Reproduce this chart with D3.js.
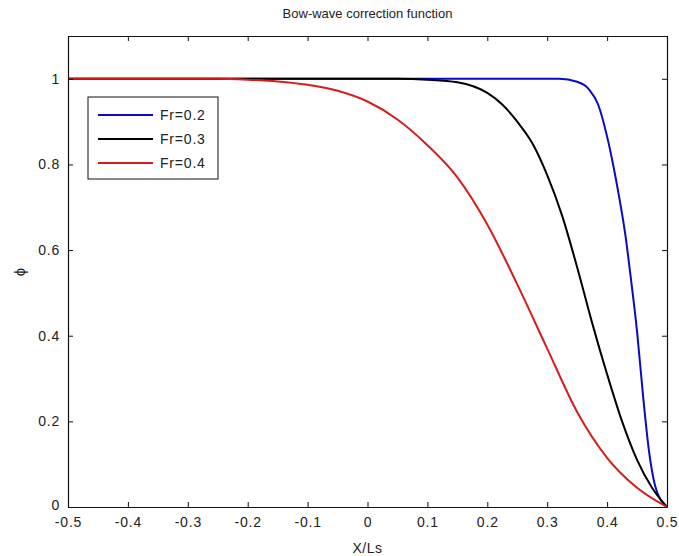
<!DOCTYPE html>
<html>
<head>
<meta charset="utf-8">
<script src="https://cdn.jsdelivr.net/npm/d3@7/dist/d3.min.js"></script>
<style>
  html, body { margin: 0; padding: 0; background: #fff; }
  svg text { font-family: Arial, "Liberation Sans", sans-serif; fill: #222; }
</style>
</head>
<body>
<svg id="chart" width="679" height="556"></svg>
<script>
// Bow-wave correction function phi(X/Ls) for three Froude numbers
const xTicks = [-0.5, -0.4, -0.3, -0.2, -0.1, 0, 0.1, 0.2, 0.3, 0.4, 0.5];
const xTickLabels = ["-0.5", "-0.4", "-0.3", "-0.2", "-0.1", "0", "0.1", "0.2", "0.3", "0.4", "0.5"];
const yTicks = [0, 0.2, 0.4, 0.6, 0.8, 1];
const yTickLabels = ["0", "0.2", "0.4", "0.6", "0.8", "1"];

const seriesNames = ["Fr=0.2", "Fr=0.3", "Fr=0.4"];
const seriesColors = ["#0a0ac4", "#000000", "#d81c1c"];

const fr02X = [-0.5, 0.30, 0.32, 0.35, 0.37, 0.385, 0.40, 0.41, 0.42, 0.43, 0.44, 0.45, 0.46, 0.47, 0.48, 0.49, 0.5];
const fr02Y = [1, 1, 1, 0.993, 0.975, 0.94, 0.865, 0.80, 0.725, 0.64, 0.53, 0.41, 0.26, 0.13, 0.05, 0.015, 0];

const fr03X = [-0.5, 0.05, 0.10, 0.15, 0.20, 0.225, 0.25, 0.275, 0.30, 0.325, 0.35, 0.375, 0.40, 0.425, 0.45, 0.475, 0.5];
const fr03Y = [1, 1, 0.998, 0.992, 0.967, 0.94, 0.90, 0.85, 0.775, 0.68, 0.56, 0.43, 0.31, 0.20, 0.11, 0.045, 0];

const fr04X = [-0.5, -0.25, -0.2, -0.15, -0.1, -0.05, 0, 0.05, 0.1, 0.15, 0.2, 0.25, 0.3, 0.35, 0.4, 0.45, 0.5];
const fr04Y = [1, 1, 0.998, 0.994, 0.986, 0.972, 0.947, 0.905, 0.845, 0.77, 0.66, 0.52, 0.37, 0.222, 0.115, 0.045, 0];

const seriesX = [fr02X, fr03X, fr04X];
const seriesY = [fr02Y, fr03Y, fr04Y];

const plot = { left: 68, right: 667, top: 36, bottom: 507 };
const svg = d3.select("#chart");

const x = d3.scaleLinear().domain([-0.5, 0.5]).range([plot.left, plot.right]);
const y = d3.scaleLinear().domain([0, 1.1]).range([plot.bottom, plot.top]);

const tickLen = 5;

// series
const line = d3.line().x(d => x(d[0])).y(d => y(d[1])).curve(d3.curveMonotoneX);
seriesX.forEach((xs, i) => {
  const pts = xs.map((v, j) => [v, seriesY[i][j]]);
  svg.append("path")
    .datum(pts)
    .attr("d", line)
    .attr("fill", "none")
    .attr("stroke", seriesColors[i])
    .attr("stroke-width", 2)
    .attr("stroke-linejoin", "round");
});

// axes with inward ticks on all four sides
function styleAxis(g) {
  g.selectAll("path.domain").attr("stroke", "#111").attr("stroke-width", 1.2);
  g.selectAll(".tick line").attr("stroke", "#111").attr("stroke-width", 1);
  g.selectAll(".tick text")
    .style("font-size", "14px")
    .style("letter-spacing", "0.8px")
    .attr("fill", "#222");
}

svg.append("g")
  .attr("transform", `translate(0,${plot.bottom})`)
  .call(d3.axisBottom(x).tickValues(xTicks).tickFormat((d, i) => xTickLabels[i])
    .tickSizeInner(-tickLen).tickSizeOuter(0).tickPadding(10))
  .call(styleAxis);

svg.append("g")
  .attr("transform", `translate(0,${plot.top})`)
  .call(d3.axisTop(x).tickValues(xTicks).tickFormat("")
    .tickSizeInner(-tickLen).tickSizeOuter(0))
  .call(styleAxis);

const yAxis = svg.append("g")
  .attr("transform", `translate(${plot.left},0)`)
  .call(d3.axisLeft(y).tickValues(yTicks).tickFormat((d, i) => yTickLabels[i])
    .tickSizeInner(-tickLen).tickSizeOuter(0).tickPadding(8))
  .call(styleAxis);
// lift the "0" label slightly so it clears the -0.5 label below it
yAxis.selectAll(".tick").filter(d => d === 0).select("text").attr("y", -2);

svg.append("g")
  .attr("transform", `translate(${plot.right},0)`)
  .call(d3.axisRight(y).tickValues(yTicks).tickFormat("")
    .tickSizeInner(-tickLen).tickSizeOuter(0))
  .call(styleAxis);

// titles
svg.append("text")
  .attr("x", (plot.left + plot.right) / 2).attr("y", 18)
  .attr("text-anchor", "middle")
  .style("font-size", "13px")
  .text("Bow-wave correction function");

svg.append("text")
  .attr("x", (plot.left + plot.right) / 2).attr("y", 553)
  .attr("text-anchor", "middle")
  .style("font-size", "14px")
  .style("letter-spacing", "0.5px")
  .text("X/Ls");

svg.append("text")
  .attr("transform", "translate(25,272) rotate(-90)")
  .attr("text-anchor", "middle")
  .style("font-size", "15px")
  .text("\u03D5");

// legend
const legend = svg.append("g");
legend.append("rect")
  .attr("x", 88).attr("y", 97).attr("width", 130).attr("height", 82)
  .attr("fill", "#fff").attr("stroke", "#111").attr("stroke-width", 1);
seriesNames.forEach((name, i) => {
  const ly = 115 + i * 24;
  legend.append("line")
    .attr("x1", 98).attr("x2", 153).attr("y1", ly).attr("y2", ly)
    .attr("stroke", seriesColors[i]).attr("stroke-width", 2);
  legend.append("text")
    .attr("x", 160).attr("y", ly + 5)
    .style("font-size", "14px")
    .style("letter-spacing", "0.8px")
    .text(name);
});
</script>
</body>
</html>
